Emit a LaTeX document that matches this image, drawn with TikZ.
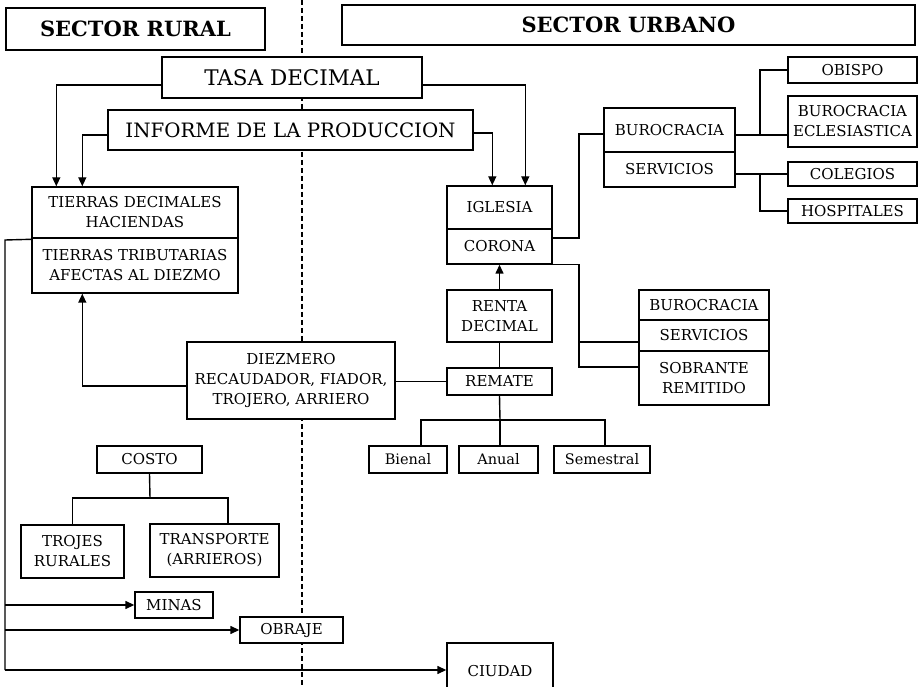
\documentclass[tikz,border=0pt]{standalone}
\usepackage{fontspec}
\setmainfont{DejaVu Serif}
\usetikzlibrary{arrows.meta}
\begin{document}
\begin{tikzpicture}[x=1pt,y=-1pt,
  box/.style={draw,line width=1.4pt,fill=white,inner sep=0pt,align=center,font=\fontsize{15}{20}\selectfont},
  low/.style={box,font=\fontsize{14.5}{18}\selectfont},
  head/.style={box,font=\bfseries\fontsize{21}{24}\selectfont},
  conn/.style={line width=1.4pt},
  arr/.style={conn,-{Triangle[length=9pt,width=8pt]}}]
\useasboundingbox (0,0) rectangle (922,687);
% dashed divider
\coordinate (dtop) at (302,0);
\coordinate (dbot) at (302,687);
\draw[line width=1.8pt,dash pattern=on 5pt off 3pt] (dtop) -- (dbot);

% headings
\node[head,minimum width=259pt,minimum height=42pt] (rural) at (135.5,29) {SECTOR RURAL};
\node[head,minimum width=573pt,minimum height=40pt] (urbano) at (628.5,25) {SECTOR URBANO};

\node[box,font=\fontsize{21.5}{24}\selectfont,minimum width=260pt,minimum height=41pt] (tasa) at (292,77.5) {TASA DECIMAL};
\node[box,font=\fontsize{19.8}{24}\selectfont,minimum width=365pt,minimum height=40pt] (informe) at (290.5,130) {INFORME DE LA PRODUCCION};

\node[box,minimum width=206pt,minimum height=51pt] (tierras1) at (135,212.5) {TIERRAS DECIMALES\\HACIENDAS};
\node[box,minimum width=206pt,minimum height=55pt] (tierras2) at (135,265.5) {TIERRAS TRIBUTARIAS\\AFECTAS AL DIEZMO};

\node[box,minimum width=105pt,minimum height=43pt] (iglesia) at (499.5,207.5) {IGLESIA};
\node[box,minimum width=105pt,minimum height=35pt] (corona) at (499.5,246.5) {CORONA};

\node[box,minimum width=131pt,minimum height=44pt] (buro1) at (669.5,130) {BUROCRACIA};
\node[box,minimum width=131pt,minimum height=35pt] (serv1) at (669.5,169.5) {SERVICIOS};

\node[box,minimum width=129pt,minimum height=26pt] (obispo) at (852.5,70) {OBISPO};
\node[box,minimum width=129pt,minimum height=51pt] (burecl) at (852.5,121.5) {BUROCRACIA\\ECLESIASTICA};
\node[box,minimum width=129pt,minimum height=24pt] (colegios) at (852.5,174) {COLEGIOS};
\node[box,minimum width=129pt,minimum height=24pt] (hospitales) at (852.5,211) {HOSPITALES};

\node[box,minimum width=130pt,minimum height=30pt] (buro2) at (704,305) {BUROCRACIA};
\node[box,minimum width=130pt,minimum height=31pt] (serv2) at (704,335.5) {SERVICIOS};
\node[box,minimum width=130pt,minimum height=54pt] (sobrante) at (704,378) {SOBRANTE\\REMITIDO};

\node[box,minimum width=105pt,minimum height=52pt] (renta) at (499.5,316) {RENTA\\DECIMAL};
\node[box,minimum width=105pt,minimum height=27pt] (remate) at (499.5,381.5) {REMATE};

\node[box,minimum width=208pt,minimum height=77pt] (diezmero) at (291,380.5) {DIEZMERO\\RECAUDADOR, FIADOR,\\TROJERO, ARRIERO};

\node[low,minimum width=78pt,minimum height=27pt] (bienal) at (408,459.5) {Bienal};
\node[low,minimum width=79pt,minimum height=27pt] (anual) at (498.5,459.5) {Anual};
\node[low,minimum width=96pt,minimum height=27pt] (semestral) at (602,459.5) {Semestral};

\node[box,minimum width=105pt,minimum height=27pt] (costo) at (149.5,459.5) {COSTO};
\node[box,minimum width=103pt,minimum height=53pt] (trojes) at (72.5,551.5) {TROJES\\RURALES};
\node[box,minimum width=129pt,minimum height=53pt] (transporte) at (214.5,550.5) {TRANSPORTE\\(ARRIEROS)};

\node[box,minimum width=78pt,minimum height=26pt] (minas) at (174,605) {MINAS};
\node[box,minimum width=103pt,minimum height=26pt] (obraje) at (291.5,630) {OBRAJE};
\node[box,minimum width=106pt,minimum height=56pt,text depth=0pt] (ciudad) at (500,671) {CIUDAD};

% connectors top
\draw[arr] ([yshift=-7.5pt]tasa.west) -| ([xshift=25pt]tierras1.north west);
\draw[arr] ([yshift=-5pt]informe.west) -| ([xshift=51pt]tierras1.north west);
\draw[arr] ([yshift=-7.5pt]tasa.east) -| ([xshift=79pt]iglesia.north west);
\draw[arr] ([yshift=-3pt]informe.east) -| ([xshift=46pt]iglesia.north west);

% left trunk
\coordinate (ltop) at (5,240);
\coordinate (lbot) at (5,670);
\draw[conn] ([yshift=-2pt]tierras2.north west) -- (ltop) -- (lbot);
\draw[arr] (ltop |- minas.west) -- (minas.west);
\draw[arr] (ltop |- obraje.west) -- (obraje.west);
\draw[arr] (lbot) -- (lbot -| ciudad.west);

% corona -> upper burocracia
\coordinate (cr) at (579,134);
\draw[conn] ([yshift=8.5pt]corona.east) -| (cr) -- (cr -| buro1.west);
\coordinate (b1) at (760,135);
\draw[conn] (b1 -| buro1.east) -- (b1 -| burecl.west);
\draw[conn] (b1) |- (obispo.west);
\coordinate (s1) at (760,174);
\draw[conn] (s1 -| serv1.east) -- (colegios.west);
\draw[conn] (s1) |- (hospitales.west);

% corona -> lower box
\coordinate (cl) at (579,367);
\coordinate (cm) at (579,342);
\draw[conn] (corona.south east) -| (cl) -- (cl -| sobrante.west);
\draw[conn] (cm) -- (cm -| serv2.west);

% renta / remate
\draw[arr] (renta.north) -- (corona.south);
\draw[conn] (renta.south) -- (remate.north);
\draw[conn] (diezmero.east |- remate.west) -- (remate.west);
\draw[arr] ([yshift=-5.5pt]diezmero.west) -| ([xshift=51pt]tierras2.south west);

\coordinate (rj) at (500,420);
\draw[conn] (remate.south) -- (rj);
\draw[conn] ([xshift=13pt]bienal.north) |- (rj) -| ([xshift=3pt]semestral.north);
\draw[conn] (rj) -- (rj |- anual.north);

% costo
\coordinate (cj) at (150,498);
\draw[conn] (costo.south) -- (cj);
\draw[conn] (trojes.north) |- (cj) -| ([xshift=13.5pt]transporte.north);
\end{tikzpicture}
\end{document}
